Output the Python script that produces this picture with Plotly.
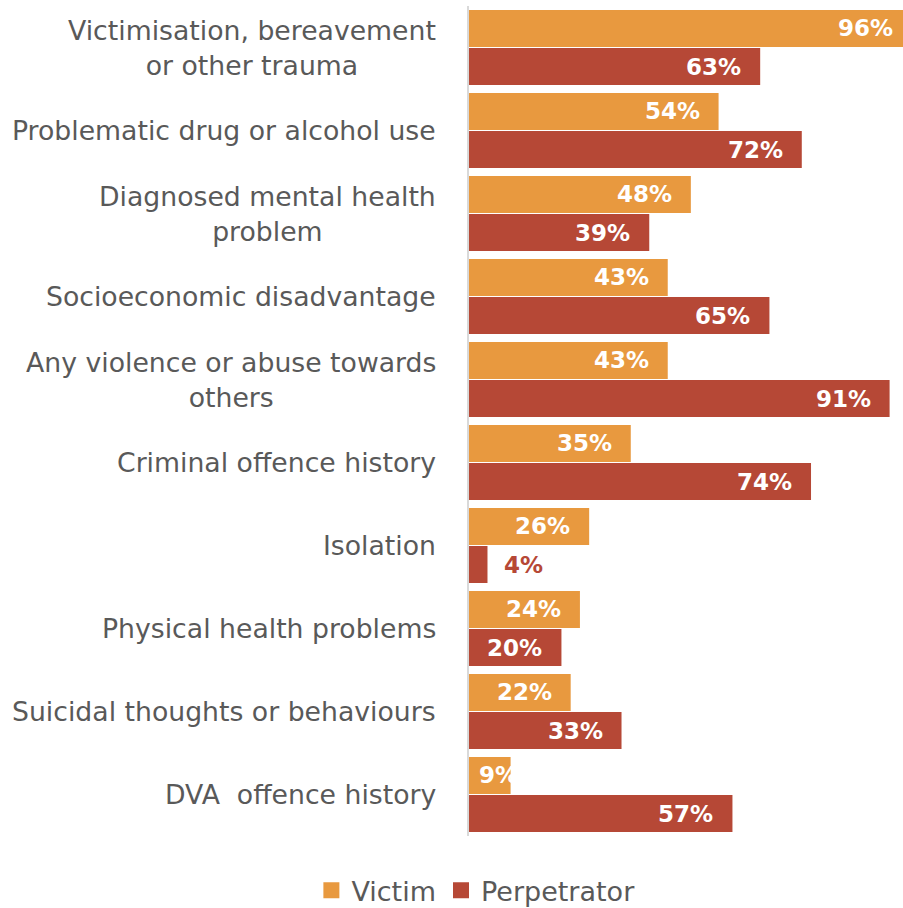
import plotly.graph_objects as go

categories = [
    "Victimisation, bereavement<br>or other trauma",
    "Problematic drug or alcohol use",
    "Diagnosed mental health<br>problem",
    "Socioeconomic disadvantage",
    "Any violence or abuse towards<br>others",
    "Criminal offence history",
    "Isolation",
    "Physical health problems",
    "Suicidal thoughts or behaviours",
    "DVA  offence history",
]
victim = [96, 54, 48, 43, 43, 35, 26, 24, 22, 9]
perpetrator = [63, 72, 39, 65, 91, 74, 4, 20, 33, 57]
series_names = ["Victim", "Perpetrator"]

ORANGE = "#E8993F"
RED = "#B64836"
GREY = "#595959"
XMAX = 93.9
FONT = "DejaVu Sans"
LBL_SIZE = 26.7

fig = go.Figure()
for name, vals, col in [("Victim", victim, ORANGE), ("Perpetrator", perpetrator, RED)]:
    fig.add_trace(go.Bar(
        y=categories, x=vals, orientation="h", name=name,
        marker=dict(color=col, line=dict(width=0)),
        showlegend=False, hoverinfo="x+y",
        offsetgroup=name,
    ))
    fig.add_trace(go.Scatter(
        x=[None], y=[None], mode="markers", name=name,
        marker=dict(symbol="square", size=16, color=col),
        showlegend=True,
    ))

annotations = []
for c in categories:
    annotations.append(dict(
        x=0, xref="paper", y=c, yref="y", text=c, showarrow=False,
        xanchor="right", yanchor="middle", align="center", xshift=-31,
        font=dict(family=FONT, size=LBL_SIZE, color=GREY),
    ))

def label(v, cat, color, slot):
    yshift = 19.5 if slot == 0 else -19.5
    if v < 6:
        a = dict(x=v, xanchor="left", xshift=15, fc=color)
    elif v < 12:
        a = dict(x=0, xanchor="left", xshift=8, fc="white")
    elif v > XMAX:
        a = dict(x=XMAX, xanchor="right", xshift=-8, fc="white")
    else:
        a = dict(x=v, xanchor="right", xshift=-17, fc="white")
    return dict(
        x=a["x"], xref="x", y=cat, yref="y", yshift=yshift,
        text=f"<b>{v}%</b>", showarrow=False, xanchor=a["xanchor"],
        yanchor="middle", xshift=a["xshift"],
        font=dict(family=FONT, size=23, color=a["fc"]),
    )

for cat, v in zip(categories, victim):
    annotations.append(label(v, cat, ORANGE, 0))
for cat, v in zip(categories, perpetrator):
    annotations.append(label(v, cat, RED, 1))

fig.update_layout(
    width=903, height=908,
    margin=dict(l=469, r=0, t=6, b=72),
    paper_bgcolor="white", plot_bgcolor="white",
    barmode="group", bargap=0.084, bargroupgap=0.026,
    xaxis=dict(range=[0, XMAX], visible=False, fixedrange=True),
    yaxis=dict(autorange="reversed", showticklabels=False, ticks="",
               showgrid=False, zeroline=False, showline=True,
               linecolor="#D9D9D9", linewidth=2, type="category"),
    legend=dict(orientation="h", xref="container", yref="container",
                x=0.527, y=0.019, xanchor="center", yanchor="middle",
                font=dict(family=FONT, size=27, color=GREY),
                itemsizing="trace"),
    annotations=annotations,
    font=dict(family=FONT),
)

fig.write_html("out.html", config={"displayModeBar": False},
               post_script="document.body.style.margin='0';document.body.style.overflow='hidden';")
